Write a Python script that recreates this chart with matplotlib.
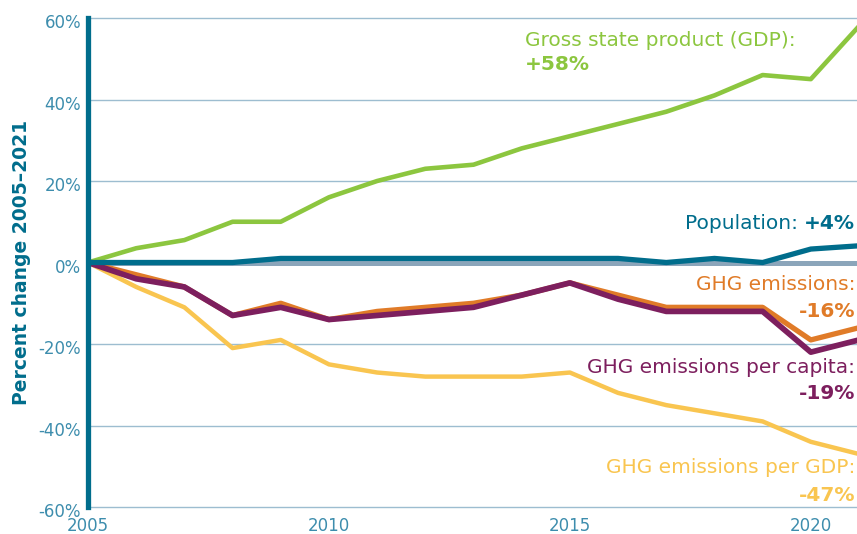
import matplotlib.pyplot as plt
from matplotlib.transforms import ScaledTranslation

years = list(range(2005, 2022))
gdp = [0, 3.5, 5.5, 10, 10, 16, 20, 23, 24, 28, 31, 34, 37, 41, 46, 45, 58]
population = [0, 0, 0, 0, 1, 1, 1, 1, 1, 1, 1, 1, 0, 1, 0, 3.3, 4.1]
ghg = [0, -3, -6, -13, -10, -14, -12, -11, -10, -8, -5, -8, -11, -11, -11, -19, -16]
ghg_capita = [0, -4, -6, -13, -11, -14, -13, -12, -11, -8, -5, -9, -12, -12, -12, -22, -19]
ghg_gdp = [0, -6, -11, -21, -19, -25, -27, -28, -28, -28, -27, -32, -35, -37, -39, -44, -47]
yticks = [-60, -40, -20, 0, 20, 40, 60]
xticks = [2005, 2010, 2015, 2020]

teal = "#006d8c"
tick_col = "#3d8dad"
green = "#8cc63f"
orange = "#e07b28"
purple = "#7d1f5e"
yellow = "#f9c550"
grid_col = "#9dbdd0"

plt.rcParams['font.family'] = ['DejaVu Sans']

fig = plt.figure(figsize=(8.57, 5.34), dpi=100)
# 2005 at x=88px, 48.2 px per year; +60% at y=18px, -60% at y=507px
ax = fig.add_axes([88 / 857, 27 / 534, 771 / 857, 489 / 534])

for t in yticks:
    if t != 0:
        ax.axhline(t, color=grid_col, lw=1.0, zorder=1, clip_on=False)
ax.axhline(0, color="#8ba5ba", lw=3.6, zorder=2)

ax.plot(years, ghg_gdp, color=yellow, lw=3.2, zorder=3)
ax.plot(years, ghg, color=orange, lw=3.8, zorder=4)
ax.plot(years, ghg_capita, color=purple, lw=4.1, zorder=5)
ax.plot(years, gdp, color=green, lw=3.3, zorder=6)
ax.plot(years, population, color=teal, lw=3.8, zorder=7)

ax.set_xlim(2005, 2021)
ax.set_ylim(-60, 60)
ax.set_yticks(yticks)
ax.set_yticklabels([f"{t}%" for t in yticks])
ax.set_xticks(xticks)
ax.tick_params(length=0, labelsize=12, colors=tick_col)
ax.tick_params(axis='y', pad=5)
ax.tick_params(axis='x', pad=7)
shift = ScaledTranslation(0, -2.5 / 72, fig.dpi_scale_trans)
for lab in ax.get_yticklabels():
    lab.set_transform(lab.get_transform() + shift)

for s in ['top', 'right', 'bottom']:
    ax.spines[s].set_visible(False)
ax.spines['left'].set_color(teal)
ax.spines['left'].set_linewidth(3.8)
ax.spines['left'].set_zorder(8)

ax.set_ylabel("Percent change 2005\u20132021", color=teal, fontsize=13.5,
              fontweight='bold', labelpad=5)

fs = 14.5
xr = 2020.92
ax.text(2014.07, 54.6, "Gross state product (GDP):", color=green, fontsize=fs, ha='left', va='center')
ax.text(2014.07, 48.5, "+58%", color=green, fontsize=fs, fontweight='bold', ha='left', va='center')
pop_val = ax.text(xr, 9.5, "+4%", color=teal, fontsize=fs, fontweight='bold', ha='right', va='center')
ax.annotate("Population: ", xy=(0, 0), xycoords=pop_val, color=teal, fontsize=fs,
            ha='right', va='bottom')
ax.text(xr, -5.5, "GHG emissions:", color=orange, fontsize=fs, ha='right', va='center')
ax.text(xr, -12.1, "-16%", color=orange, fontsize=fs, fontweight='bold', ha='right', va='center')
ax.text(xr, -25.8, "GHG emissions per capita:", color=purple, fontsize=fs, ha='right', va='center')
ax.text(xr, -32.2, "-19%", color=purple, fontsize=fs, fontweight='bold', ha='right', va='center')
ax.text(xr, -50.3, "GHG emissions per GDP:", color=yellow, fontsize=fs, ha='right', va='center')
ax.text(xr, -57.2, "-47%", color=yellow, fontsize=fs, fontweight='bold', ha='right', va='center')

fig.savefig("out.png", dpi=100)
